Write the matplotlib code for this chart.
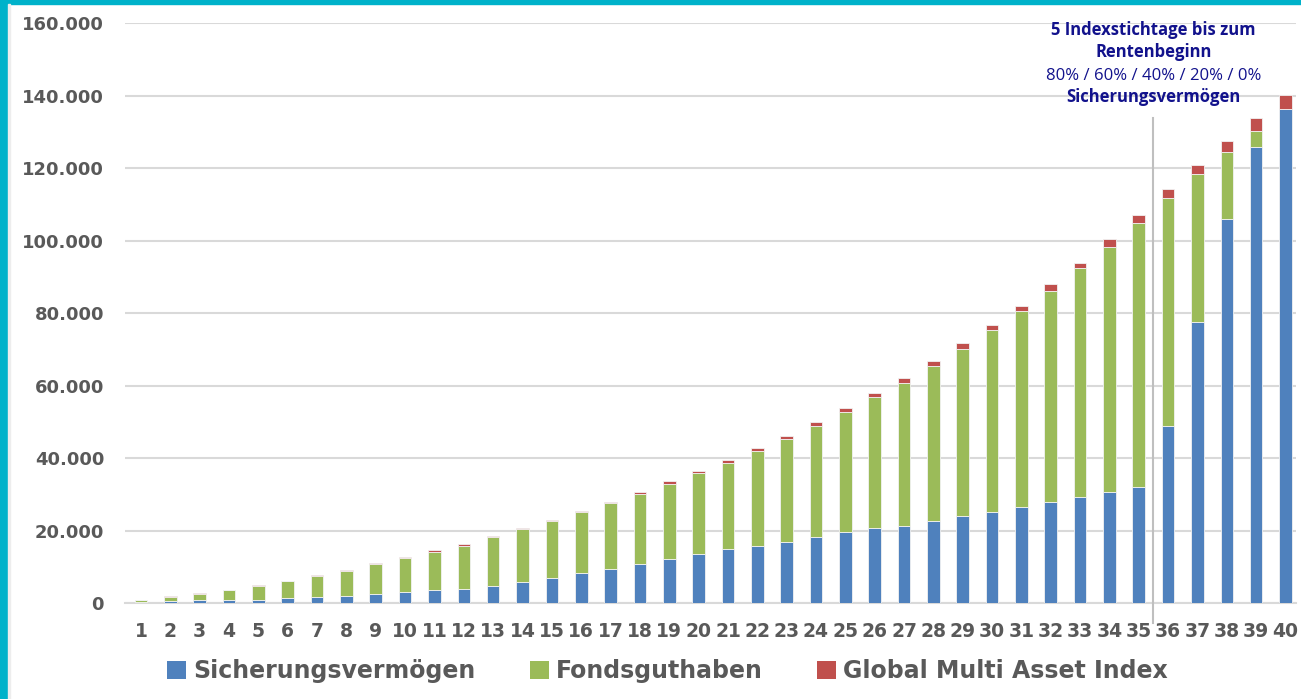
import matplotlib.pyplot as plt
from matplotlib.patches import Rectangle, Patch
from matplotlib.ticker import FuncFormatter

# Jahre 1..40
jahre = list(range(1, 41))

# Werte in Euro
sicherungsvermoegen = [400, 500, 700, 900, 900, 1500, 1600, 2000, 2600, 3000,
                       3500, 4000, 4800, 5700, 7000, 8200, 9500, 10700, 12100, 13500,
                       15000, 15600, 16800, 18200, 19500, 20800, 21300, 22500, 23900, 25200,
                       26600, 28000, 29300, 30700, 32100, 48800, 77400, 106000, 125700, 136400]
fondsguthaben = [400, 1200, 1900, 2600, 3700, 4500, 5800, 6900, 8100, 9400,
                 10600, 11800, 13300, 14600, 15600, 16800, 18000, 19300, 20800, 22300,
                 23600, 26300, 28500, 30700, 33100, 36000, 39500, 43000, 46300, 50000,
                 54000, 58200, 63000, 67600, 72800, 63000, 40900, 18300, 4600, 0]
global_index = [100, 200, 200, 200, 300, 200, 300, 300, 300, 400,
                400, 600, 300, 500, 400, 500, 500, 600, 700, 700,
                900, 800, 900, 1000, 1200, 1100, 1300, 1200, 1400, 1400,
                1400, 1700, 1600, 2000, 2100, 2400, 2600, 3100, 3400, 3700]

serien = ["Sicherungsvermögen", "Fondsguthaben", "Global Multi Asset Index"]
farben = ["#4F81BD", "#9BBB59", "#C0504D"]
grau = "#595959"

fig = plt.figure(figsize=(13.01, 6.99), dpi=100)
ax = fig.add_axes([0.096, 0.1373, 0.9, 0.8297])

# gestapelte Balken
unten = [0] * len(jahre)
for werte, farbe in zip([sicherungsvermoegen, fondsguthaben, global_index], farben):
    ax.bar(jahre, werte, width=0.43, bottom=unten, color=farbe,
           edgecolor="#F2F2F2", linewidth=0.6, zorder=3)
    unten = [u + w for u, w in zip(unten, werte)]

ax.set_xlim(0.45, 40.35)
ax.set_ylim(0, 160000)
ax.set_yticks(range(0, 160001, 20000))
ax.yaxis.set_major_formatter(FuncFormatter(lambda v, p: f"{int(v):,}".replace(",", ".")))
ax.set_xticks(jahre)

ax.grid(axis="y", color="#D9D9D9", linewidth=1.5, zorder=0)
for s in ["top", "right", "left"]:
    ax.spines[s].set_visible(False)
ax.spines["bottom"].set_color("#D9D9D9")
ax.spines["bottom"].set_linewidth(1.5)
ax.tick_params(axis="both", length=0, labelcolor=grau)
ax.tick_params(axis="y", pad=15, labelsize=13)
ax.tick_params(axis="x", pad=14, labelsize=13.5)
for lbl in ax.get_xticklabels() + ax.get_yticklabels():
    lbl.set_fontweight("bold")

# Trennlinie vor den Indexstichtagen
ax.plot([35.5, 35.5], [-5500, 133800], color="#BFBFBF", linewidth=1.5,
        clip_on=False, zorder=4)

# Beschriftung
navy = "#12128C"
zeilen = [("5 Indexstichtage bis zum", "bold", 156700),
          ("Rentenbeginn", "bold", 150600),
          ("80% / 60% / 40% / 20% / 0%", "normal", 144300),
          ("Sicherungsvermögen", "bold", 138200)]
for txt, gewicht, yb in zeilen:
    ax.text(35.5, yb, txt, ha="center", va="baseline", color=navy, fontsize=12,
            fontweight=gewicht, family="Open Sans")

# Legende
handles = [Patch(facecolor=f, edgecolor="none") for f in farben]
fig.legend(handles, serien, loc="center", bbox_to_anchor=(0.513, 0.04), ncol=3,
           frameon=False, handlelength=0.8, handleheight=0.8, handletextpad=0.3,
           columnspacing=2.3, prop={"weight": "bold", "size": 17}, labelcolor=grau)

# Rahmen (türkis) links und oben
fig.patches.append(Rectangle((0, 0), 8 / 1301, 1, transform=fig.transFigure,
                             color="#00B2CA", zorder=10))
fig.patches.append(Rectangle((0, 1 - 4 / 699), 1, 4 / 699, transform=fig.transFigure,
                             color="#00B2CA", zorder=10))
fig.patches.append(Rectangle((8 / 1301, 0), 2 / 1301, 1 - 4 / 699, transform=fig.transFigure,
                             color="#EDEDED", zorder=10))

fig.savefig("out.png", dpi=100)
